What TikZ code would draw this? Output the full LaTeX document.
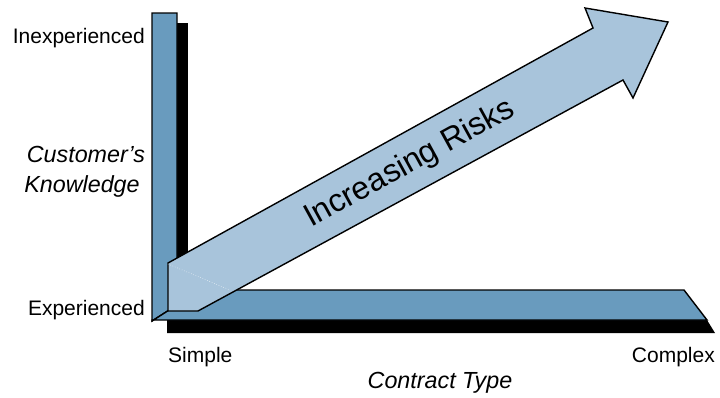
\documentclass[tikz,border=0pt]{standalone}
\usepackage{fontspec}
\setmainfont{Liberation Sans}
\definecolor{barblue}{RGB}{105,155,190}
\definecolor{arrowblue}{RGB}{168,196,219}
\begin{document}
\begin{tikzpicture}[x=1pt,y=-1pt,
  bar/.style={fill=barblue,draw=black,line width=1.4pt,line join=miter},
  shade/.style={fill=black,draw=none},
  lbl/.style={inner sep=0pt,font=\fontsize{21}{25}\selectfont},
  ilbl/.style={inner sep=0pt,font=\fontsize{23.3}{28}\selectfont\itshape}]
\useasboundingbox (0,0) rectangle (720,397);
% shadows
\fill[shade] (177,23) rectangle (188,300);
\fill[shade] (167,320) -- (707,320) -- (715,333) -- (167,333) -- cycle;
% bars
\draw[bar] (152,13) -- (177,13) -- (177,305) -- (152,321) -- cycle;
\draw[bar] (152,321) -- (177,305) -- (177,290) -- (684,290) -- (707,320) -- (152,320) -- cycle;
% arrow
\draw[fill=arrowblue,draw=black,line width=1.4pt,line join=miter]
  (168,263) -- (593,28) -- (585,8) -- (668,22) -- (633,98) -- (623,80)
  -- (198,311) -- (168,311) -- cycle;
\draw[white,line width=0.5pt,dotted] (168,264) -- (230,290);
\node[inner sep=0pt,rotate=28.8,font=\fontsize{32}{38}\selectfont] (risk) at (410,164) {Increasing Risks};
% labels
\node[lbl,anchor=base east] (inexp) at (145,43) {Inexperienced};
\node[lbl,anchor=base east] (exp) at (145,315) {Experienced};
\node[ilbl,anchor=base] (cust) at (86,162) {Customer’s};
\node[ilbl,anchor=base] (know) at (82,192) {Knowledge};
\node[lbl,anchor=base west] (simple) at (168,362) {Simple};
\node[lbl,anchor=base east] (complex) at (715,362) {Complex};
\node[ilbl,anchor=base] (ctype) at (440,388) {Contract Type};
\end{tikzpicture}
\end{document}
